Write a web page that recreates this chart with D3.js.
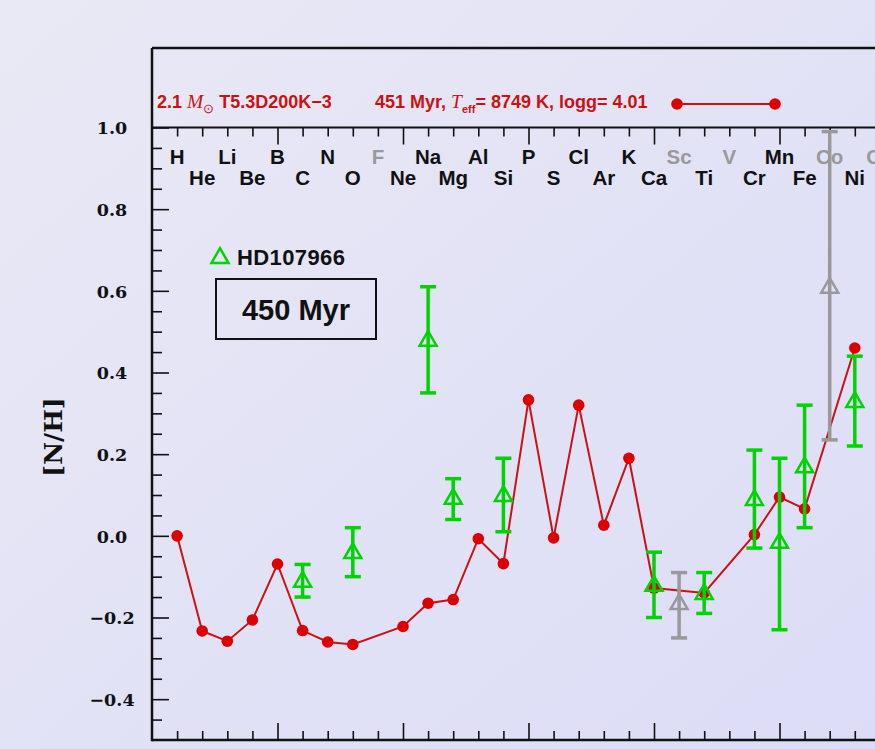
<!DOCTYPE html>
<html><head><meta charset="utf-8">
<script src="https://cdn.jsdelivr.net/npm/d3@7"></script>
<style>html,body{margin:0;padding:0;overflow:hidden;}svg{display:block;}</style>
</head><body>
<script>
// ---- data ----
const elementsOdd = [["H",1,false],["Li",3,false],["B",5,false],["N",7,false],["F",9,true],["Na",11,false],["Al",13,false],["P",15,false],["Cl",17,false],["K",19,false],["Sc",21,true],["V",23,true],["Mn",25,false],["Co",27,true],["Cu",29,true]];
const elementsEven = [["He",2,false],["Be",4,false],["C",6,false],["O",8,false],["Ne",10,false],["Mg",12,false],["Si",14,false],["S",16,false],["Ar",18,false],["Ca",20,false],["Ti",22,false],["Cr",24,false],["Fe",26,false],["Ni",28,false]];
// model [N/H] (Z, value)
const modelZ   = [1, 2, 3, 4, 5, 6, 7, 8, 10, 11, 12, 13, 14, 15, 16, 17, 18, 19, 20, 22, 24, 25, 26, 28];
const modelVal = [0.0, -0.233, -0.258, -0.206, -0.069, -0.232, -0.26, -0.266, -0.222, -0.165, -0.156, -0.007, -0.068, 0.333, -0.005, 0.32, 0.026, 0.19, -0.128, -0.14, 0.003, 0.095, 0.066, 0.46];
// observed HD107966 (Z, value, low, high, uncertain)
const obsZ    = [6, 8, 11, 12, 14, 20, 21, 22, 24, 25, 26, 27, 28];
const obsVal  = [-0.11, -0.04, 0.48, 0.093, 0.10, -0.12, -0.165, -0.14, 0.09, -0.015, 0.17, 0.61, 0.33];
const obsLow  = [-0.15, -0.10, 0.35, 0.04, 0.01, -0.20, -0.25, -0.19, -0.03, -0.23, 0.02, 0.235, 0.22];
const obsHigh = [-0.07, 0.02, 0.61, 0.14, 0.19, -0.04, -0.09, -0.09, 0.21, 0.19, 0.32, 0.99, 0.44];
const obsGrey = [false, false, false, false, false, false, true, false, false, false, false, true, false];
const yTicks = [-0.4, -0.2, 0.0, 0.2, 0.4, 0.6, 0.8, 1.0];

const W = 875, H = 749;
const svg = d3.select("body").append("svg").attr("width", W).attr("height", H)
  .style("font-family", "'Liberation Sans', Arial, sans-serif");

const defs = svg.append("defs");
const grad = defs.append("linearGradient").attr("id","bg").attr("x1","0").attr("y1","0").attr("x2","1").attr("y2","1");
grad.append("stop").attr("offset","0").attr("stop-color","#e9e9f5");
grad.append("stop").attr("offset","1").attr("stop-color","#dcdcf7");
svg.append("rect").attr("width",W).attr("height",H).attr("fill","url(#bg)");

const left = 152, topY = 48;
const x = d3.scaleLinear().domain([0, 32]).range([left, left + 32*25.1]);
const y = d3.scaleLinear().domain([-0.5, 1.0]).range([740, 127.5]);
const right = x(32);

const RED = "#cc1111", GREEN = "#00d400", GREY = "#999999";

const axisStyle = g => { g.selectAll("path").remove(); g.selectAll("line").attr("stroke","#111").attr("stroke-width",1.6); };

// left axis major
const ly = svg.append("g").attr("transform",`translate(${left},0)`)
  .call(d3.axisRight(y).tickValues(yTicks).tickSize(17).tickFormat(d => d3.format(".1f")(d).replace("-", "\u2212")));
axisStyle(ly);
ly.selectAll("text").attr("x", -40).attr("text-anchor","middle").attr("dy","0.36em")
  .style("font-family","'DejaVu Serif', serif").style("font-weight","bold").style("font-size","17.5px").attr("fill","#111");
// left minors
const minorY = d3.range(-0.45, 1.0, 0.05).filter(v => Math.abs(Math.round(v*5)-v*5) > 1e-6);
const lym = svg.append("g").attr("transform",`translate(${left},0)`)
  .call(d3.axisRight(y).tickValues(minorY).tickSize(10).tickFormat(""));
axisStyle(lym);

// bottom & top axes (ticks inward)
const majX = d3.range(5, 32, 5), minX = d3.range(1, 32).filter(v => v % 5 !== 0);
[[majX,17],[minX,9]].forEach(([vals,len]) => {
  const g = svg.append("g").attr("transform",`translate(0,${y(-0.5)})`)
    .call(d3.axisTop(x).tickValues(vals).tickSize(len).tickFormat(""));
  axisStyle(g);
  const g2 = svg.append("g").attr("transform",`translate(0,${y(1.0)})`)
    .call(d3.axisBottom(x).tickValues(vals).tickSize(len).tickFormat(""));
  axisStyle(g2);
});

// frame lines
svg.append("line").attr("x1",left).attr("x2",right).attr("y1",y(-0.5)).attr("y2",y(-0.5)).attr("stroke","#111").attr("stroke-width",2.5);
svg.append("line").attr("x1",left).attr("x2",right).attr("y1",y(1.0)).attr("y2",y(1.0)).attr("stroke","#111").attr("stroke-width",2.2);
svg.append("line").attr("x1",left).attr("x2",right).attr("y1",topY).attr("y2",topY).attr("stroke","#111").attr("stroke-width",2.5);
svg.append("line").attr("x1",left).attr("x2",left).attr("y1",topY).attr("y2",y(-0.5)+1.2).attr("stroke","#111").attr("stroke-width",2.5);

// y label
svg.append("text").attr("transform","translate(62,437) rotate(-90)").attr("text-anchor","middle")
  .style("font-family","'DejaVu Serif', serif").style("font-weight","bold").style("font-size","25px").attr("fill","#111").text("[N/H]");

// element labels
svg.append("g").selectAll("text").data(elementsOdd).join("text")
  .attr("x", d => x(d[1])).attr("y", 164).attr("text-anchor","middle")
  .style("font-weight","bold").style("font-size","20.5px").attr("fill", d => d[2] ? "#999" : "#111").text(d => d[0]);
svg.append("g").selectAll("text").data(elementsEven).join("text")
  .attr("x", d => x(d[1])).attr("y", 185).attr("text-anchor","middle")
  .style("font-weight","bold").style("font-size","20.5px").attr("fill", d => d[2] ? "#999" : "#111").text(d => d[0]);

// model line
const model = modelZ.map((z,i) => ({z, v: modelVal[i]}));
svg.append("path").datum(model).attr("fill","none").attr("stroke",RED).attr("stroke-width",2)
  .attr("d", d3.line().x(d => x(d.z)).y(d => y(d.v)));
svg.append("g").selectAll("circle").data(model).join("circle")
  .attr("cx", d => x(d.z)).attr("cy", d => y(d.v)).attr("r", 5.8).attr("fill","#dd0000");

// observed
const obs = obsZ.map((z,i) => ({z, v: obsVal[i], lo: obsLow[i], hi: obsHigh[i], grey: obsGrey[i]}));
const og = svg.append("g");
const tri = d3.symbol().type(d3.symbolTriangle).size(125);
obs.forEach(d => {
  const c = d.grey ? GREY : GREEN;
  const g = og.append("g");
  g.append("line").attr("x1",x(d.z)).attr("x2",x(d.z)).attr("y1",y(d.lo)).attr("y2",y(d.hi)).attr("stroke",c).attr("stroke-width",3.5);
  [d.lo, d.hi].forEach(e => g.append("line").attr("x1",x(d.z)-8).attr("x2",x(d.z)+8).attr("y1",y(e)).attr("y2",y(e)).attr("stroke",c).attr("stroke-width",3.5));
  g.append("path").attr("d", tri).attr("transform",`translate(${x(d.z)},${y(d.v)+1})`).attr("fill","none").attr("stroke",c).attr("stroke-width",2.5);
});

// legend top panel
const FS = "18px";
const lt = svg.append("text").attr("x",157).attr("y",108).attr("fill",RED).style("font-weight","bold").style("font-size",FS);
lt.append("tspan").text("2.1 ");
lt.append("tspan").style("font-family","'Liberation Serif', serif").style("font-style","italic").style("font-weight","normal").style("font-size","19.5px").text("M");
lt.append("tspan").attr("dy",5).style("font-size","13px").style("font-weight","normal").text("\u2299");
lt.append("tspan").attr("dy",-5).text(" T5.3D200K\u22123");
const lt2 = svg.append("text").attr("x",375).attr("y",108).attr("fill",RED).style("font-weight","bold").style("font-size",FS);
lt2.append("tspan").text("451 Myr,  ");
lt2.append("tspan").style("font-family","'Liberation Serif', serif").style("font-style","italic").style("font-weight","normal").style("font-size","19.5px").text("T");
lt2.append("tspan").attr("dy",5).style("font-size","11px").text("eff");
lt2.append("tspan").attr("dy",-5).text("= 8749 K, logg= 4.01");
svg.append("line").attr("x1",677).attr("x2",775).attr("y1",104).attr("y2",104).attr("stroke",RED).attr("stroke-width",2);
[677,775].forEach(cx => svg.append("circle").attr("cx",cx).attr("cy",104).attr("r",5.8).attr("fill","#dd0000"));

// HD legend
svg.append("path").attr("d", tri).attr("transform","translate(220,258)").attr("fill","none").attr("stroke",GREEN).attr("stroke-width",2.5);
svg.append("text").attr("x",237).attr("y",265).style("font-weight","bold").style("font-size","22px").style("letter-spacing","0.4px").attr("fill","#111").text("HD107966");
svg.append("rect").attr("x",216).attr("y",279).attr("width",160).attr("height",60).attr("fill","none").attr("stroke","#111").attr("stroke-width",2);
svg.append("text").attr("x",296).attr("y",320).attr("text-anchor","middle").style("font-weight","bold").style("font-size","29px").attr("fill","#111").text("450 Myr");
</script>
</body></html>
